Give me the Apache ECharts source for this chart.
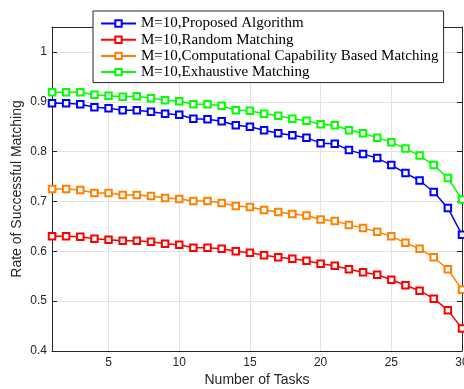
<!DOCTYPE html>
<html>
<head>
<meta charset="utf-8">
<script src="https://cdn.jsdelivr.net/npm/echarts@6/dist/echarts.min.js"></script>
<style>html,body{margin:0;padding:0;background:#fff}#c{width:464px;height:389px}</style>
</head>
<body>
<div id="c"></div>
<script>
var tasks = [1,2,3,4,5,6,7,8,9,10,11,12,13,14,15,16,17,18,19,20,21,22,23,24,25,26,27,28,29,30];
var proposed = [0.897,0.897,0.895,0.889,0.887,0.883,0.883,0.880,0.876,0.874,0.866,0.865,0.861,0.853,0.850,0.843,0.837,0.833,0.828,0.817,0.816,0.803,0.795,0.787,0.773,0.757,0.742,0.719,0.687,0.633];
var randomM = [0.630,0.630,0.629,0.625,0.623,0.621,0.621,0.619,0.615,0.613,0.607,0.607,0.605,0.600,0.597,0.592,0.588,0.585,0.581,0.575,0.571,0.564,0.558,0.553,0.543,0.532,0.521,0.505,0.482,0.445];
var compCap = [0.725,0.725,0.723,0.717,0.717,0.713,0.713,0.711,0.707,0.705,0.701,0.701,0.697,0.691,0.689,0.683,0.679,0.675,0.672,0.664,0.661,0.653,0.647,0.639,0.630,0.617,0.605,0.588,0.564,0.523];
var exhaustive = [0.919,0.919,0.919,0.914,0.912,0.910,0.911,0.907,0.903,0.901,0.895,0.895,0.892,0.883,0.882,0.876,0.872,0.866,0.862,0.855,0.853,0.843,0.837,0.828,0.819,0.806,0.792,0.773,0.747,0.704];
var seriesNames = ['M=10,Proposed Algorithm','M=10,Random Matching','M=10,Computational Capability Based Matching','M=10,Exhaustive Matching'];
var seriesColors = ['#0000ff','#ff0000','#ff8000','#00ff00'];
var xTicks = [5,10,15,20,25,30];
var yTicks = [0.4,0.5,0.6,0.7,0.8,0.9,1];

var allVals = [proposed, randomM, compCap, exhaustive];
function pairs(v){ return tasks.map(function(t,i){ return [t, v[i]]; }); }

var axisColor = '#262626';
var gridColor = '#e3e3e3';

var chart = echarts.init(document.getElementById('c'), null, {renderer:'canvas'});
chart.setOption({
  animation: false,
  backgroundColor: '#fff',
  grid: {left: 52, right: 2, top: 27, bottom: 38, containLabel: false, outerBoundsMode: 'none'},
  legend: {
    data: seriesNames,
    orient: 'vertical',
    left: 93, top: 11,
    padding: [5, 5, 3, 7],
    itemWidth: 35, itemHeight: 8, itemGap: 1.2,
    backgroundColor: '#fff',
    borderColor: '#262626', borderWidth: 1,
    textStyle: {fontFamily: 'Liberation Serif', fontSize: 15, color: '#000'}
  },
  xAxis: [{
    type: 'value', min: 1, max: 30,
    name: 'Number of Tasks', nameLocation: 'middle', nameGap: 22, nameMoveOverlap: false,
    nameTextStyle: {fontFamily: 'Liberation Sans', fontSize: 14, color: axisColor},
    axisLine: {show: true, lineStyle: {color: axisColor, width: 1}},
    axisTick: {show: true, inside: true, length: 5, customValues: xTicks, lineStyle: {color: axisColor}},
    axisLabel: {customValues: xTicks, margin: 6, fontFamily: 'Liberation Sans', fontSize: 12, color: axisColor},
    splitLine: {show: false}
  },{
    type: 'value', min: 1, max: 30, position: 'top',
    axisLine: {show: true, onZero: false, lineStyle: {color: axisColor, width: 1}},
    axisTick: {show: true, inside: true, length: 5, customValues: xTicks, lineStyle: {color: axisColor}},
    axisLabel: {show: false},
    splitLine: {show: false}
  }],
  yAxis: [{
    type: 'value', min: 0.4, max: 1.05, interval: 0.1,
    name: 'Rate of Successful Matching', nameLocation: 'middle', nameGap: 28, nameMoveOverlap: false,
    nameTextStyle: {fontFamily: 'Liberation Sans', fontSize: 14, color: axisColor},
    axisLine: {show: true, lineStyle: {color: axisColor, width: 1}},
    axisTick: {show: true, inside: true, length: 5, lineStyle: {color: axisColor}},
    axisLabel: {showMaxLabel: false, margin: 5, fontFamily: 'Liberation Sans', fontSize: 12, color: axisColor},
    splitLine: {show: true, lineStyle: {color: gridColor, width: 1}}
  },{
    type: 'value', min: 0.4, max: 1.05, interval: 0.1, position: 'right',
    axisLine: {show: true, onZero: false, lineStyle: {color: axisColor, width: 1}},
    axisTick: {show: true, inside: true, length: 5, lineStyle: {color: axisColor}},
    axisLabel: {show: false},
    splitLine: {show: false}
  }],
  series: seriesNames.map(function(n, k){
    var s = {
      name: n, type: 'line', data: pairs(allVals[k]),
      xAxisIndex: 0, yAxisIndex: 0,
      symbol: 'emptyRect', symbolSize: 6.5,
      lineStyle: {color: seriesColors[k], width: 1.5},
      itemStyle: {color: seriesColors[k], borderColor: seriesColors[k], borderWidth: 1.5},
      z: 10 - k
    };
    if (k === 0) {
      s.markLine = {
        silent: true, symbol: 'none', label: {show: false},
        lineStyle: {color: gridColor, width: 1, type: 'solid'},
        z: 1,
        data: xTicks.slice(0, 5).map(function(v){ return {xAxis: v}; })
      };
    }
    return s;
  })
});
</script>
</body>
</html>
